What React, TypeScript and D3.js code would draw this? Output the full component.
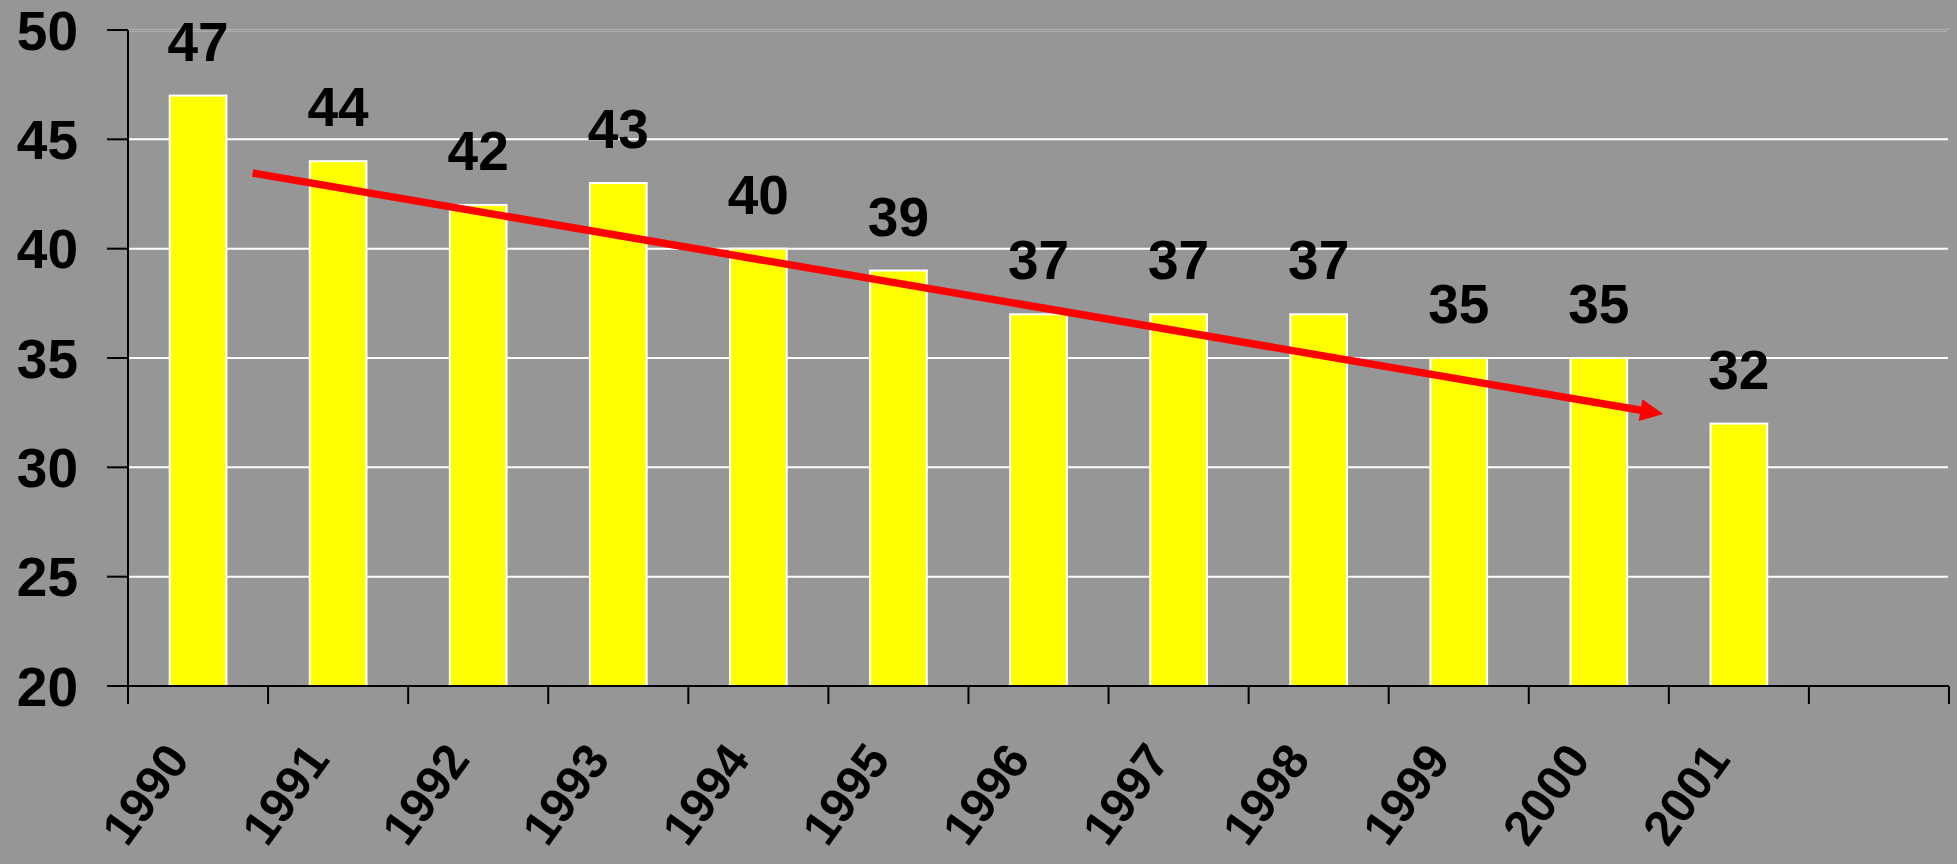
import React from "react";
import * as d3 from "d3";

const years = ["1990", "1991", "1992", "1993", "1994", "1995", "1996", "1997", "1998", "1999", "2000", "2001", ""];
const values = [47, 44, 42, 43, 40, 39, 37, 37, 37, 35, 35, 32];
const yTicks = [20, 25, 30, 35, 40, 45, 50];
// trend arrow annotation: [slot position, value]
const arrowStart = [0.89, 43.46];
const arrowEnd = [10.96, 32.44];

const W = 1957;
const H = 864;
const left = 128;
const right = 1949;
const top = 30;
const bottom = 686;
const font = "'Liberation Sans', Arial, sans-serif";

export default function App() {
  const x = d3.scaleBand<string>().domain(years.map((y, i) => String(i))).range([left, right]).paddingInner(0).paddingOuter(0);
  const xLin = d3.scaleLinear().domain([0, years.length]).range([left, right]);
  const y = d3.scaleLinear().domain([20, 50]).range([bottom, top]);
  const bw = x.bandwidth();
  const barW = bw * 0.405;

  const x1 = xLin(arrowStart[0]);
  const y1 = y(arrowStart[1]);
  const x2 = xLin(arrowEnd[0]);
  const y2 = y(arrowEnd[1]);
  const ang = Math.atan2(y2 - y1, x2 - x1);
  const headLen = 23;
  const headHalf = 11;
  const bx = x2 - headLen * Math.cos(ang);
  const by = y2 - headLen * Math.sin(ang);
  const px = -Math.sin(ang);
  const py = Math.cos(ang);
  const head = `M${x2},${y2} L${bx + px * headHalf},${by + py * headHalf} L${bx - px * headHalf},${by - py * headHalf} Z`;

  return (
    <svg width={W} height={H} style={{ position: "absolute", left: 0, top: 0, display: "block" }}>
      <rect x={0} y={0} width={W} height={H} fill="#969696" />
      {/* top border lines */}
      <line x1={left} x2={1950} y1={29.3} y2={29.3} stroke="#acacac" strokeWidth={1.2} />
      <line x1={left} x2={1947} y1={31.3} y2={31.3} stroke="#acacac" strokeWidth={1.2} />
      {/* gridlines */}
      {yTicks.filter((t) => t > 20 && t < 50).map((t) => (
        <line key={t} x1={left} x2={1948} y1={y(t)} y2={y(t)} stroke="#ffffff" strokeWidth={2} />
      ))}
      {/* bars */}
      {values.map((v, i) => {
        const cx = (x(String(i)) as number) + bw / 2;
        return (
          <rect key={i} x={cx - barW / 2} y={y(v)} width={barW} height={bottom - y(v)} fill="#ffff00" stroke="#ffffff" strokeWidth={2} />
        );
      })}
      {/* axes */}
      <line x1={left} x2={left} y1={top} y2={704} stroke="#000" strokeWidth={2} />
      <line x1={107} x2={right} y1={bottom} y2={bottom} stroke="#000" strokeWidth={2} />
      {yTicks.map((t) => (
        <line key={t} x1={107} x2={left} y1={y(t)} y2={y(t)} stroke="#000" strokeWidth={2} />
      ))}
      {d3.range(years.length + 1).map((i) => (
        <line key={i} x1={xLin(i)} x2={xLin(i)} y1={bottom} y2={704} stroke="#000" strokeWidth={2} />
      ))}
      {/* y labels */}
      {yTicks.map((t) => (
        <text key={t} x={78} y={y(t) + 19.5} textAnchor="end" fontFamily={font} fontWeight="bold" fontSize={55} fill="#000">
          {t}
        </text>
      ))}
      {/* x labels */}
      {years.map((yr, i) => {
        const cx = (x(String(i)) as number) + bw / 2;
        const ax = cx - 7;
        const ay = 760;
        return (
          <text key={i} x={ax} y={ay} transform={`rotate(-54 ${ax} ${ay})`} textAnchor="end" fontFamily={font} fontWeight="bold" fontSize={49} fill="#000">
            {yr}
          </text>
        );
      })}
      {/* value labels */}
      {values.map((v, i) => {
        const cx = (x(String(i)) as number) + bw / 2;
        return (
          <text key={i} x={cx} y={y(v) - 35} textAnchor="middle" fontFamily={font} fontWeight="bold" fontSize={55} fill="#000">
            {v}
          </text>
        );
      })}
      {/* trend arrow */}
      <line x1={x1} y1={y1} x2={bx + 2 * Math.cos(ang)} y2={by + 2 * Math.sin(ang)} stroke="#ff0000" strokeWidth={7.5} />
      <path d={head} fill="#ff0000" />
    </svg>
  );
}
